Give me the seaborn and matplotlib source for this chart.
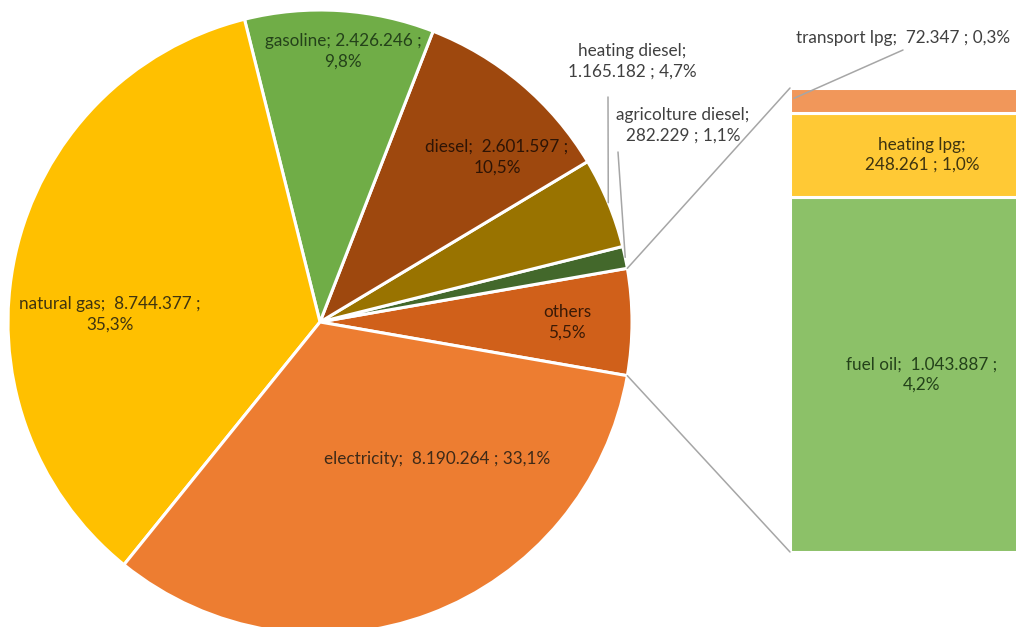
import numpy as np
import matplotlib
matplotlib.use("Agg")
import matplotlib.pyplot as plt
import seaborn as sns

# Final energy consumption by source (pie) with "others" broken out (bar)
pie_labels = ["others", "agricolture diesel", "heating diesel", "diesel",
              "gasoline", "natural gas", "electricity"]
pie_values = [None, 282229, 1165182, 2601597, 2426246, 8744377, 8190264]
pie_colors = ["#D0601A", "#43682B", "#997300", "#9E480E",
              "#70AD47", "#FFC000", "#ED7D31"]

bar_labels = ["fuel oil", "heating lpg", "transport lpg"]
bar_values = [1043887, 248261, 72347]
bar_colors = ["#8CC168", "#FFC935", "#F1975A"]

pie_values[0] = sum(bar_values)
total = sum(pie_values)


def fmt_num(v):
    return f"{v:,}".replace(",", ".")


def fmt_pct(v):
    return f"{100 * v / total:.1f}%".replace(".", ",")


sns.set_theme(style="white")
plt.rcParams["font.family"] = ["Lato", "DejaVu Sans"]

W, H = 1016, 627
fig = plt.figure(figsize=(W / 100, H / 100), dpi=100)
ax = fig.add_axes([0, 0, 1, 1])

cx, cy, R = 320, H - 322, 312
others_deg = 360 * pie_values[0] / total
wedges, _ = ax.pie(pie_values, colors=pie_colors, center=(cx, cy), radius=R,
                   startangle=-others_deg / 2, counterclock=True,
                   wedgeprops=dict(edgecolor="white", linewidth=2.2),
                   frame=True)
ax.set_xlim(0, W)
ax.set_ylim(0, H)
ax.set_aspect("equal")
ax.axis("off")

# stacked bar for the breakdown of "others"
bar_left, bar_w = 790, 260
bar_top, bar_bot = H - 88, H - 552
scale = (bar_top - bar_bot) / sum(bar_values)
bottom = bar_bot
bar_rects = []
for v, c in zip(bar_values, bar_colors):
    r = ax.bar(bar_left, v * scale, width=bar_w, bottom=bottom, align="edge",
               color=c, edgecolor="white", linewidth=2.2)
    bar_rects.append(r[0])
    bottom += v * scale

# connector lines from the "others" wedge to the bar
line_col = "#A6A6A6"
for ang, ytgt in [(others_deg / 2, bar_top), (-others_deg / 2, bar_bot)]:
    t = np.deg2rad(ang)
    ax.plot([cx + R * np.cos(t), bar_left], [cy + R * np.sin(t), ytgt],
            color=line_col, lw=1.1, zorder=1)

txt = dict(ha="center", va="center", fontsize=12.3, linespacing=1.35)

# labels inside the pie
inside = {
    "gasoline": ((343, 51), "#24421A", "gasoline; {n} ;\n{p}"),
    "diesel": ((497, 157), "#2E1405", "diesel;  {n} ;\n{p}"),
    "natural gas": ((110, 314), "#3F3410", "natural gas;  {n} ;\n{p}"),
    "electricity": ((437, 459), "#3E2A18", "electricity;  {n} ; {p}"),
}
for name, ((x, y), col, tpl) in inside.items():
    v = pie_values[pie_labels.index(name)]
    ax.text(x, H - y, tpl.format(n=fmt_num(v), p=fmt_pct(v)), color=col, **txt)

ax.text(567, H - 322, "others\n" + fmt_pct(pie_values[0]), color="#3A1A06", **txt)

# labels outside the pie with leader lines
def wedge_edge(name, rr=R):
    w = wedges[pie_labels.index(name)]
    t = np.deg2rad((w.theta1 + w.theta2) / 2)
    return cx + rr * np.cos(t), cy + rr * np.sin(t)

v = pie_values[pie_labels.index("heating diesel")]
ax.text(632, H - 61, f"heating diesel;\n{fmt_num(v)} ; {fmt_pct(v)}",
        color="#404040", **txt)
ex, ey = wedge_edge("heating diesel")
ax.plot([ex, 608], [ey, H - 97], color=line_col, lw=1.1)

v = pie_values[pie_labels.index("agricolture diesel")]
ax.text(683, H - 125, f"agricolture diesel;\n{fmt_num(v)} ; {fmt_pct(v)}",
        color="#404040", **txt)
ex, ey = wedge_edge("agricolture diesel")
ax.plot([ex, 618], [ey, H - 152], color=line_col, lw=1.1)

# labels for the bar segments
tl = bar_rects[2]
v = bar_values[2]
ax.text(903, H - 38, f"transport lpg;  {fmt_num(v)} ; {fmt_pct(v)}",
        color="#404040", **txt)
ax.plot([bar_left + 4, 903], [tl.get_y() + tl.get_height() / 2 + 2, H - 50],
        color=line_col, lw=1.1)

for r, v, name, col in [(bar_rects[1], bar_values[1], "heating lpg", "#3F3410"),
                        (bar_rects[0], bar_values[0], "fuel oil", "#24421A")]:
    y = r.get_y() + r.get_height() / 2
    label = f"{name};\n{fmt_num(v)} ; {fmt_pct(v)}" if name == "heating lpg" \
        else f"{name};  {fmt_num(v)} ;\n{fmt_pct(v)}"
    ax.text(922, y, label, color=col, **txt)

fig.savefig("out.png", dpi=100)
